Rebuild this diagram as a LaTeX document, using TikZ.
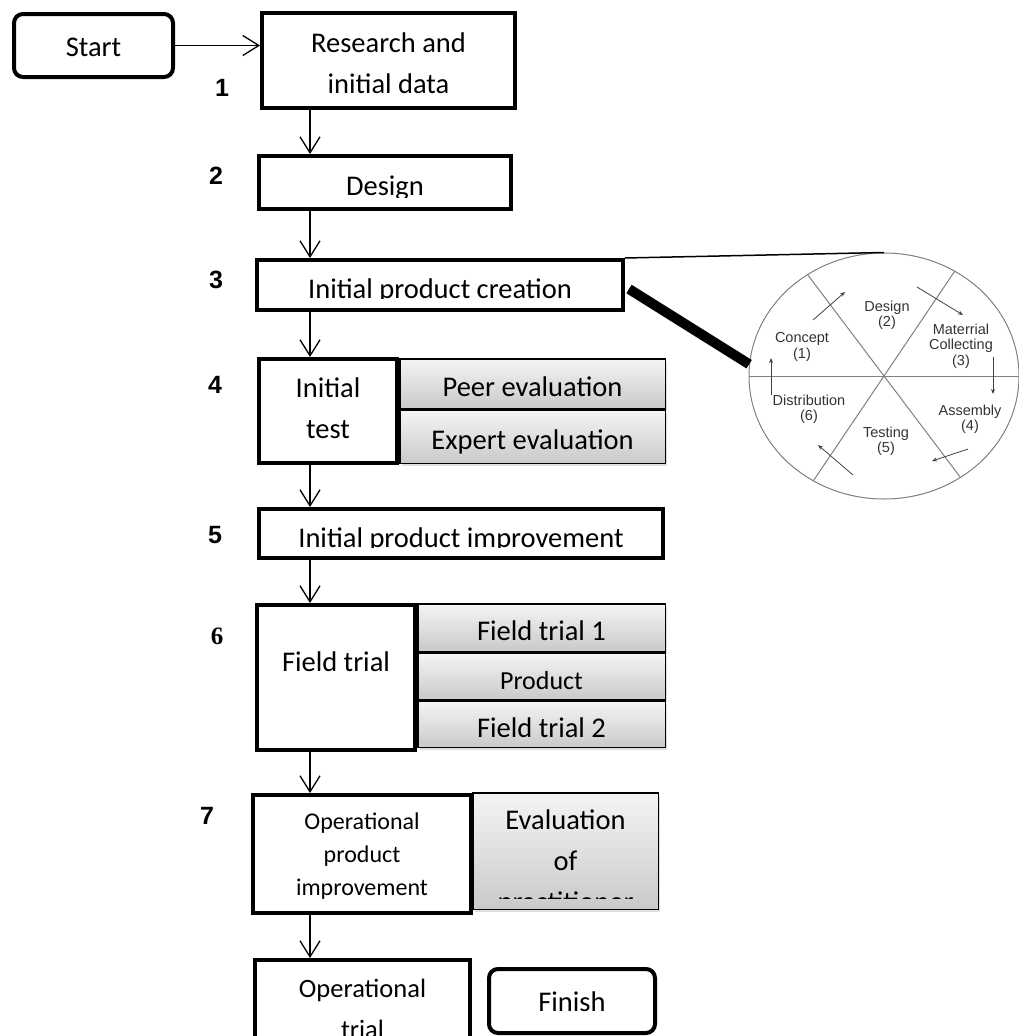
\documentclass[tikz,border=0pt]{standalone}
\usepackage{fontspec}
\setmainfont{Carlito}
\newfontfamily\numfont{Liberation Sans}
\newfontfamily\numserif{Liberation Serif}
\usetikzlibrary{arrows.meta,shapes.geometric,shadows}

\newcommand{\boxlines}[1]{\begin{tabular}[t]{@{}c@{}}#1\end{tabular}}

\tikzset{
  stepbox/.style={draw, line width=4pt, fill=white, inner sep=0pt, anchor=north west},
  endbox/.style={stepbox, rounded corners=9pt, text height=21pt, text depth=0pt},
  subbox/.style={draw, line width=1.5pt, top color=gray!8, bottom color=gray!42,
    drop shadow={opacity=0.25, shadow xshift=2pt, shadow yshift=-3pt},
    inner sep=0pt, anchor=north west, text height=26pt, text depth=0pt},
  txtcut/.style n args={3}{path picture={
      \clip (path picture bounding box.north west) rectangle ([yshift=-#1]path picture bounding box.north east);
      \node[anchor=base, inner sep=0pt, minimum size=0pt] at ([yshift=-#2]path picture bounding box.north) {#3};}},
  txt/.style 2 args={txtcut={400pt}{#1}{#2}},
  num/.style={font=\numfont\bfseries\fontsize{25}{25}\selectfont},
  flow/.style={-{Straight Barb[length=16pt, width=20pt]}, line width=1.3pt},
  sector/.style={draw=gray, line width=1pt},
  stage/.style={align=center, text=black!80, font=\numfont\fontsize{14.5}{15.5}\selectfont},
  turn/.style={-{Stealth[length=5pt, width=4pt]}, line width=0.8pt, black!75},
}

\begin{document}
\begin{tikzpicture}[x=1pt, y=-1pt, font=\fontsize{28.5}{41}\selectfont]
\useasboundingbox (0,0) rectangle (1019,1036);
\clip (0,0) rectangle (1019,1036);
\coordinate (spine) at (310,0);

% side boxes
\node[subbox, minimum width=265.5pt, minimum height=49.5pt] (peer) at (399,358) {Peer evaluation};
\node[subbox, minimum width=265.5pt, minimum height=53.5pt] (expert) at (399,409) {Expert evaluation};
\node[subbox, minimum width=247.5pt, minimum height=47.5pt] (ft1) at (417,603) {Field trial 1};
\node[subbox, minimum width=247.5pt, minimum height=46.5pt, font=\fontsize{26}{30}\selectfont] (prod) at (417,652) {Product};
\node[subbox, minimum width=247.5pt, minimum height=46.5pt] (ft2) at (417,700) {Field trial 2};
\node[subbox, minimum width=185.5pt, minimum height=116.5pt,
  txtcut={106pt}{37pt}{\boxlines{Evaluation\\of\\practitioner}}] (eval) at (472,792) {};

% steps
\node[endbox, minimum width=159pt, minimum height=63pt] (start) at (12,12) {Start};
\node[stepbox, minimum width=253pt, minimum height=95pt,
  txt={39pt}{\boxlines{Research and\\initial data}}] (b1) at (260,11) {};
\node[stepbox, minimum width=252pt, minimum height=53pt,
  txtcut={41pt}{39pt}{Design}] (b2) at (257,154) {};
\node[stepbox, minimum width=366pt, minimum height=50pt,
  txtcut={38.5pt}{38pt}{Initial product creation}] (b3) at (255,258) {};
\node[stepbox, minimum width=138pt, minimum height=104pt,
  txt={38pt}{\boxlines{Initial\\test}}] (b4) at (257,357) {};
\node[stepbox, minimum width=404pt, minimum height=49pt,
  txtcut={38.5pt}{38pt}{Initial product improvement}] (b5) at (257,507) {};
\node[stepbox, minimum width=158pt, minimum height=145pt,
  txt={66pt}{Field trial}] (b6) at (255,603) {};
\node[stepbox, minimum width=218pt, minimum height=118pt,
  txt={34pt}{\fontsize{24}{33}\selectfont\boxlines{Operational\\product\\improvement}}] (b7) at (251,793) {};
\node[stepbox, minimum width=215pt, minimum height=120pt,
  txt={37pt}{\fontsize{26.5}{41}\selectfont\boxlines{Operational\\trial}}] (b8) at (253,958) {};
\node[endbox, minimum width=166pt, minimum height=64pt] (finish) at (487,967) {Finish};

\node[num] (n1) at (222,88) {1};
\node[num] (n2) at (216,176) {2};
\node[num] (n3) at (216,280) {3};
\node[num] (n4) at (215,385) {4};
\node[num] (n5) at (215,535) {5};
\node[num, font=\numserif\bfseries\fontsize{25}{25}\selectfont] (n6) at (217,636) {6};
\node[num] (n7) at (207,816) {7};

\draw[flow] (start.east) -- (start.east -| b1.west);
\foreach \a/\b in {b1/b2, b2/b3, b3/b4, b4/b5, b5/b6, b6/b7, b7/b8}
  \draw[flow] (\a.south -| spine) -- (\b.north -| spine);

% production wheel
\node[ellipse, draw=gray, line width=1pt, minimum width=270pt, minimum height=246pt, inner sep=0pt] (wheel) at (884,376) {};
\draw[sector] (wheel.west) -- (wheel.east);
\draw[sector] (wheel.127) -- (wheel.307);
\draw[sector] (wheel.56) -- (wheel.236);

\draw[line width=1.5pt] (b3.north east) -- (wheel.north);
\draw[line width=10pt] ([shift={(4,4)}]b3.east) -- (wheel.175);

\node[stage] (s1) at (802,347) {Concept\\(1)};
\node[stage] (s2) at (887,315) {Design\\(2)};
\node[stage] (s3) at (961,346) {Materrial\\Collecting\\(3)};
\node[stage] (s4) at (970,419) {Assembly\\(4)};
\node[stage] (s5) at (886,441) {Testing\\(5)};
\node[stage] (s6) at (809,409) {Distribution\\(6)};

\draw[turn] (813,320) -- (845,292);
\draw[turn] (917,287) -- (963,315);
\draw[turn] (993,357) -- (993,394);
\draw[turn] (968,449) -- (932,461);
\draw[turn] (853,475) -- (818,445);
\draw[turn] (771,395) -- (771,358);
\end{tikzpicture}
\end{document}
